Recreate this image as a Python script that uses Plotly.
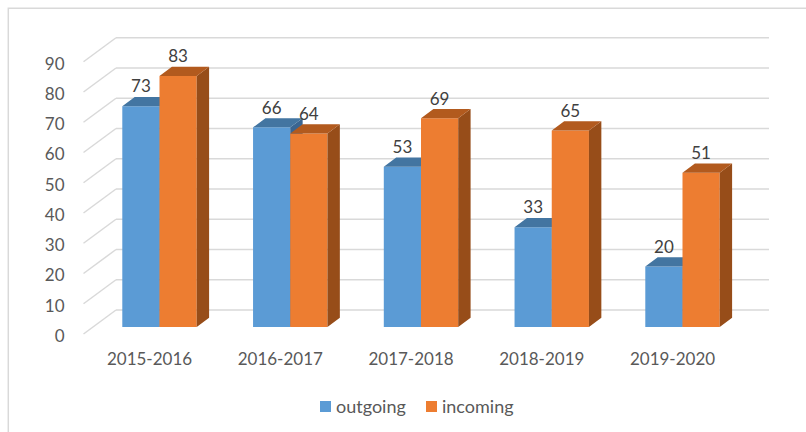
import plotly.graph_objects as go

categories = ["2015-2016", "2016-2017", "2017-2018", "2018-2019", "2019-2020"]
outgoing = [73, 66, 53, 33, 20]
incoming = [83, 64, 69, 65, 51]
y_ticks = [0, 10, 20, 30, 40, 50, 60, 70, 80, 90]
series_names = ["outgoing", "incoming"]

W, H = 806, 432
ML, MB = 72, 90
PX_PER_CAT = 130.75
PX_PER_VAL = 3.025
CAT0_PX = 159.5
BASE_PX = 327
BAR_W = 37.2 / PX_PER_CAT
DX = 12.4 / PX_PER_CAT
DY = 9.2 / PX_PER_VAL
FRONT_WALL = -7 / PX_PER_VAL          # front edge of the side wall
BACK_WALL = 17 / PX_PER_VAL           # back wall plane, behind the bars
LABEL_NUDGE = 2 / PX_PER_VAL
CAT_LABEL_SHIFT = -10 / PX_PER_CAT
WALL_X0 = (83.5 - CAT0_PX) / PX_PER_CAT
WALL_X1 = (116 - CAT0_PX) / PX_PER_CAT
WALL_X2 = (769 - CAT0_PX) / PX_PER_CAT
x_range = [(ML - CAT0_PX) / PX_PER_CAT, (W - CAT0_PX) / PX_PER_CAT]
y_range = [(BASE_PX - (H - MB)) / PX_PER_VAL, BASE_PX / PX_PER_VAL]
GRID = "#d9d9d9"
FONT = "Lato"
BLUE, ORANGE = "#5B9BD5", "#ED7D31"
xs = list(range(len(categories)))


def top_faces(vals, offset):
    px, py = [], []
    for x, v in zip(xs, vals):
        l, r = x + offset, x + offset + BAR_W
        px += [l, r, r + DX, l + DX, l, None]
        py += [v, v, v + DY, v + DY, v, None]
    return px, py


def side_faces(vals, offset):
    px, py = [], []
    for x, v in zip(xs, vals):
        r = x + offset + BAR_W
        px += [r, r + DX, r + DX, r, r, None]
        py += [0, DY, v + DY, v, 0, None]
    return px, py


def face(pts, color, xa, ya):
    return go.Scatter(x=pts[0], y=pts[1], mode="lines", fill="toself", fillcolor=color,
                      line=dict(width=0, color=color), hoverinfo="skip", showlegend=False,
                      xaxis=xa, yaxis=ya)


def paper_x(px):
    return (px - ML) / (W - ML)


def paper_y(px):
    return (H - MB - px) / (H - MB)


fig = go.Figure()
fig.add_trace(go.Bar(x=xs, y=outgoing, name=series_names[0], width=BAR_W, offset=-BAR_W,
                     marker=dict(color=BLUE, line=dict(width=0)), showlegend=False))
fig.add_trace(face(side_faces(outgoing, -BAR_W), "#3A6591", "x", "y"))
fig.add_trace(face(top_faces(outgoing, -BAR_W), "#4375A1", "x", "y"))
fig.add_trace(go.Bar(x=xs, y=incoming, name=series_names[1], width=BAR_W, offset=0,
                     marker=dict(color=ORANGE, line=dict(width=0)), showlegend=False,
                     xaxis="x2", yaxis="y2"))
fig.add_trace(face(side_faces(incoming, 0), "#974D19", "x2", "y2"))
fig.add_trace(face(top_faces(incoming, 0), "#B25A1E", "x2", "y2"))

label_gap = 18 / PX_PER_VAL
label_font = dict(family=FONT, size=17, color="#404040")
fig.add_trace(go.Scatter(x=[x - BAR_W / 2 for x in xs], y=[v + label_gap for v in outgoing],
                         text=[str(v) for v in outgoing], mode="text", textposition="middle center",
                         textfont=label_font, showlegend=False, hoverinfo="skip", xaxis="x2", yaxis="y2"))
fig.add_trace(go.Scatter(x=[x + BAR_W / 2 for x in xs], y=[v + label_gap for v in incoming],
                         text=[str(v) for v in incoming], mode="text", textposition="middle center",
                         textfont=label_font, showlegend=False, hoverinfo="skip", xaxis="x2", yaxis="y2"))

shapes = [dict(type="rect", xref="paper", yref="paper",
               x0=paper_x(8.3), x1=1.01, y0=-0.5, y1=paper_y(8.3),
               line=dict(color=GRID, width=1.5), fillcolor="white", layer="below")]
for t in y_ticks:
    shapes.append(dict(type="line", xref="x", yref="y", x0=WALL_X0, y0=t + FRONT_WALL,
                       x1=WALL_X1, y1=t + BACK_WALL, line=dict(color=GRID, width=1.5), layer="below"))
    shapes.append(dict(type="line", xref="x", yref="y", x0=WALL_X1, y0=t + BACK_WALL,
                       x1=WALL_X2, y1=t + BACK_WALL, line=dict(color=GRID, width=1.5), layer="below"))

annotations = []
for name, color, sx, tx in zip(series_names, [BLUE, ORANGE], [320, 426], [336, 442]):
    shapes.append(dict(type="rect", xref="paper", yref="paper", x0=paper_x(sx), x1=paper_x(sx + 11),
                       y0=paper_y(412), y1=paper_y(401), line=dict(width=0), fillcolor=color))
    annotations.append(dict(xref="paper", yref="paper", x=paper_x(tx), y=paper_y(405.5), text=name,
                            showarrow=False, xanchor="left", yanchor="middle", xshift=-2,
                            font=dict(family=FONT, size=18, color="#595959")))

axis_font = dict(family=FONT, size=17, color="#595959")
fig.update_layout(
    width=W, height=H,
    margin=dict(l=ML, r=0, t=0, b=MB),
    paper_bgcolor="white", plot_bgcolor="rgba(0,0,0,0)",
    barmode="overlay",
    shapes=shapes,
    annotations=annotations,
    showlegend=False,
    xaxis=dict(range=x_range, tickvals=[x + CAT_LABEL_SHIFT for x in xs], ticktext=categories,
               tickfont=axis_font, showgrid=False, zeroline=False, showline=False,
               ticks="outside", ticklen=2, tickcolor="rgba(0,0,0,0)"),
    yaxis=dict(range=y_range, tickvals=[t + FRONT_WALL - LABEL_NUDGE for t in y_ticks],
               ticktext=[str(t) for t in y_ticks], tickfont=axis_font, showgrid=False, zeroline=False,
               showline=False, ticks="outside", ticklen=3, tickcolor="rgba(0,0,0,0)"),
    xaxis2=dict(range=x_range, overlaying="x", visible=False),
    yaxis2=dict(range=y_range, overlaying="y", visible=False),
)
fig.write_html("out.html", config=dict(displayModeBar=False),
               post_script="document.body.style.margin='0';document.documentElement.style.overflow='hidden';")
